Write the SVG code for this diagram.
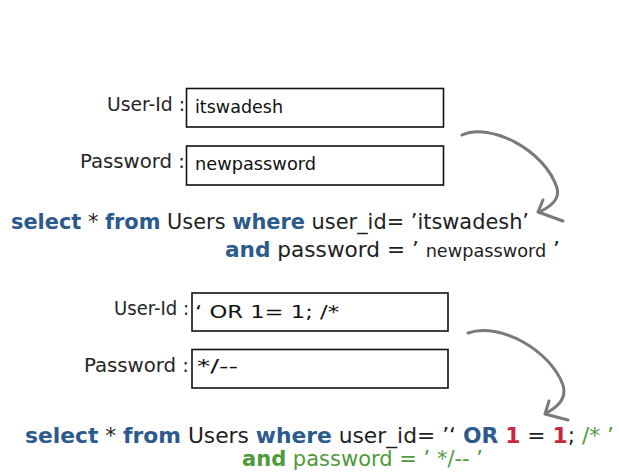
<svg xmlns="http://www.w3.org/2000/svg" width="619" height="472" viewBox="0 0 619 472">
<style>
text{font-family:"DejaVu Sans Condensed","Liberation Sans",sans-serif;}
.lbl{font-size:19px;fill:#262626;text-anchor:end;}
.box{fill:#fff;stroke:#111;stroke-width:1.6;}
.val{font-size:18px;fill:#111;}
.q{font-size:22px;fill:#1e1e1e;}
.kw{fill:#2c5a8c;font-weight:bold;}
.gr{fill:#4f9a3a;}
.rd{fill:#c8283c;font-weight:bold;}
.arr{fill:none;stroke:#7a7a7a;stroke-width:3;stroke-linecap:round;stroke-linejoin:round;}
</style>
<rect width="619" height="472" fill="#fff"/>
<g id="userid1">
<rect class="box" x="186.5" y="88.5" width="257" height="38.5"/>
<text class="lbl" x="185" y="111" textLength="78" lengthAdjust="spacingAndGlyphs">User-Id :</text>
<text class="val" x="195" y="113" textLength="88" lengthAdjust="spacingAndGlyphs">itswadesh</text>
</g>
<g id="password1">
<rect class="box" x="186.5" y="146" width="257" height="39"/>
<text class="lbl" x="185" y="168" textLength="105" lengthAdjust="spacingAndGlyphs">Password :</text>
<text class="val" x="195" y="170" textLength="121" lengthAdjust="spacingAndGlyphs">newpassword</text>
</g>
<g id="query1">
<text class="q" x="11" y="229" textLength="518" lengthAdjust="spacingAndGlyphs"><tspan class="kw">select</tspan> * <tspan class="kw">from</tspan> Users <tspan class="kw">where</tspan> user_id= ’itswadesh’</text>
<text class="q" x="225" y="257" textLength="335" lengthAdjust="spacingAndGlyphs"><tspan class="kw">and</tspan> password = ’ <tspan font-size="18">newpassword</tspan> ’</text>
</g>
<g id="userid2">
<rect class="box" x="192" y="293" width="256" height="38"/>
<text class="lbl" x="189" y="315" textLength="75" lengthAdjust="spacingAndGlyphs">User-Id :</text>
<text class="val" x="195" y="318" font-size="22" textLength="144" lengthAdjust="spacingAndGlyphs">‘ OR 1= 1; /*</text>
</g>
<g id="password2">
<rect class="box" x="192" y="349.5" width="256" height="38.5"/>
<text class="lbl" x="189" y="372" textLength="105" lengthAdjust="spacingAndGlyphs">Password :</text>
<text class="val" x="197" y="372" font-size="20" textLength="41" lengthAdjust="spacingAndGlyphs">*/--</text>
</g>
<g id="query2">
<text class="q" x="25" y="443" textLength="589" lengthAdjust="spacingAndGlyphs"><tspan class="kw">select</tspan> * <tspan class="kw">from</tspan> Users <tspan class="kw">where</tspan> user_id= ’‘ <tspan class="kw">OR</tspan> <tspan class="rd">1</tspan> = <tspan class="rd">1</tspan>; <tspan class="gr">/* ’</tspan></text>
<text class="q gr" x="242" y="466" font-size="21" textLength="241" lengthAdjust="spacingAndGlyphs"><tspan font-weight="bold">and</tspan> password = ’ */-- ’</text>
</g>
<g id="connectors">
<path class="arr" d="M462,135 C490,122 545,150 557,188 Q561,202 539,212"/>
<path class="arr" d="M543,200 L538,212 L563,221"/>
<path class="arr" d="M468,333 C500,322 550,350 563,385 Q568,402 546,413"/>
<path class="arr" d="M549,401 L545,414 L568,420"/>
</g>
</svg>
